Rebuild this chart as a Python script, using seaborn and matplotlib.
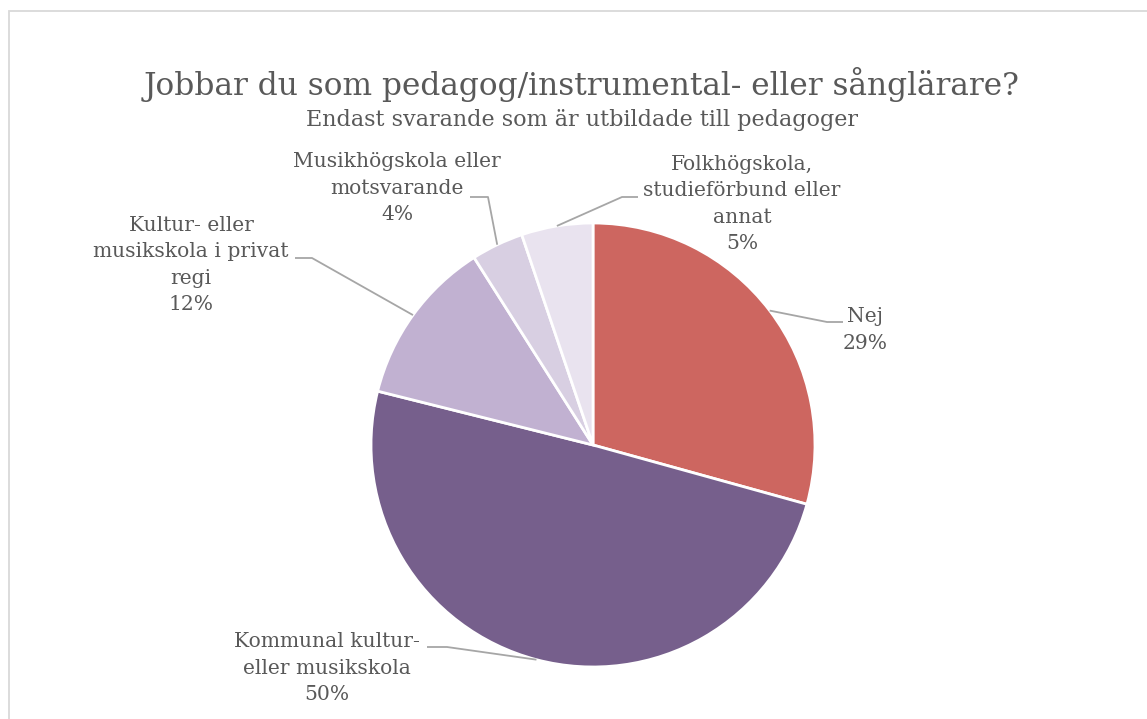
import numpy as np
import matplotlib
matplotlib.use("Agg")
import matplotlib.pyplot as plt
from matplotlib.patches import Rectangle
import seaborn as sns

# data
categories = ["Nej",
              "Kommunal kultur-\neller musikskola",
              "Kultur- eller\nmusikskola i privat\nregi",
              "Musikhögskola eller\nmotsvarande",
              "Folkhögskola,\nstudieförbund eller\nannat"]
shares = [29.3, 49.6, 12.1, 3.8, 5.2]
colors = ["#CD6660", "#765F8C", "#C1B1D1", "#D8CFE2", "#E9E3EF"]

title = "Jobbar du som pedagog/instrumental- eller sånglärare?"
subtitle = "Endast svarande som är utbildade till pedagoger"

sns.set_theme(style="white")
plt.rcParams['font.family'] = ['DejaVu Serif']
grey = "#595959"

W, H = 1147, 719
fig = plt.figure(figsize=(W / 100, H / 100), dpi=100)
ax = fig.add_axes([0, 0, 1, 1])

# chart border
ax.add_patch(Rectangle((8.5, -20), 1300, H - 11 + 20, fill=False,
                       edgecolor="#D9D9D9", linewidth=1.3))

cx, cy, R = 593, H - 445, 222
wedges, _ = ax.pie(shares, colors=colors, startangle=90, counterclock=False,
                   center=(cx, cy), radius=R, frame=True,
                   wedgeprops=dict(edgecolor="white", linewidth=2))
ax.set_xlim(0, W)
ax.set_ylim(0, H)
ax.set_aspect('equal')
ax.axis('off')

# label layout: text center (px from top), elbow start, elbow end
layout = [
    ((865, 330), (843, 322), (827, 322)),
    ((327, 668), (427, 647), (447, 647)),
    ((191, 265), (295, 258), (312, 258)),
    ((397, 188), (470, 197), (488, 197)),
    ((742, 204), (638, 197), (622, 197)),
]

for w, cat, val, (tpos, e1, e2) in zip(wedges, categories, shares, layout):
    ang = np.deg2rad((w.theta1 + w.theta2) / 2)
    px, py = cx + R * np.cos(ang), cy + R * np.sin(ang)
    ax.plot([e1[0], e2[0], px], [H - e1[1], H - e2[1], py],
            color="#A6A6A6", linewidth=1.3, solid_capstyle='butt')
    ax.text(tpos[0], H - tpos[1], f"{cat}\n{round(val)}%", ha='center', va='center',
            multialignment='center', fontsize=14.6, color=grey, linespacing=1.47)

ax.text(582, H - 84, title, ha='center', va='center', fontsize=22.5, color=grey)
ax.text(582, H - 120, subtitle, ha='center', va='center', fontsize=16, color=grey)

fig.savefig("out.png", dpi=100)
